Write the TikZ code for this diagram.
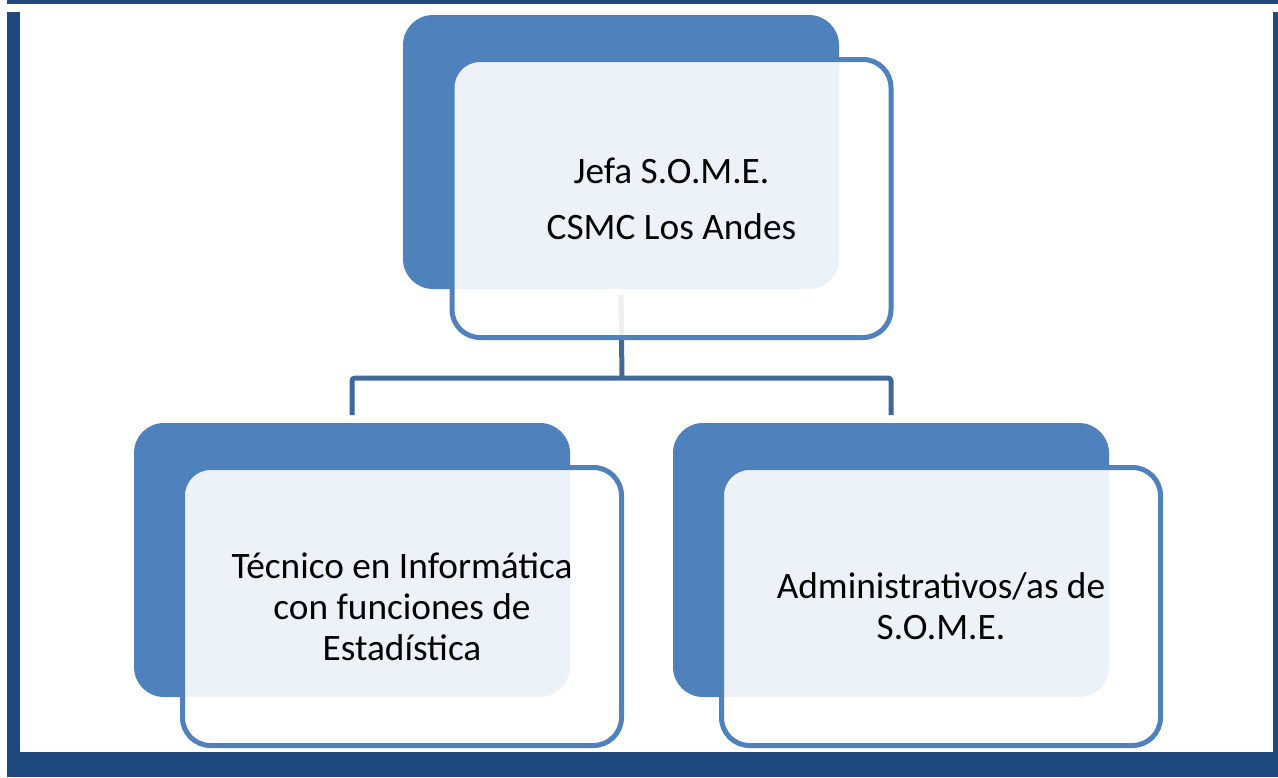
\documentclass[tikz,border=0pt]{standalone}
\usepackage{fontspec}
\setmainfont{Carlito}
\definecolor{accent}{HTML}{4F81BD}
\definecolor{frame}{HTML}{1F497D}
\definecolor{connc}{HTML}{41689A}
\tikzset{
  backbox/.style={fill=accent, draw=none, rounded corners=30pt, inner sep=0pt, outer sep=0pt,
    minimum width=436pt, minimum height=274pt},
  frontbox/.style={draw=accent, line width=5pt, fill=white, fill opacity=0.9, text opacity=1,
    rounded corners=28pt, inner sep=0pt, outer sep=0pt,
    minimum width=439pt, minimum height=278pt},
  label/.style={align=center, font=\fontsize{37.3}{40.8}\selectfont, text=black, inner sep=0pt},
  conn/.style={draw=connc, line width=5pt, rounded corners=3pt},
  framebar/.style={fill=frame, draw=none}
}
\begin{document}
\begin{tikzpicture}[x=1pt, y=-1pt]
\useasboundingbox (0,0) rectangle (1278,777);
\fill[white] (0,0) rectangle (1278,777);
% frame
\fill[framebar] (7,0) rectangle (1278,4);
\fill[framebar] (7,12) rectangle (20,777);
\fill[framebar] (1273,12) rectangle (1278,752);
\fill[framebar] (7,752) rectangle (1278,777);
% back boxes
\node[backbox] (topback) at (621,152) {};
\node[backbox] (lback) at (352,560) {};
\node[backbox] (rback) at (891,560) {};
% connectors
\coordinate (bar) at (622,378);
\draw[conn] ([yshift=-6pt]topback.south) -- (bar);
\draw[conn] ([yshift=8pt]lback.north) -- (lback.north |- bar) -- (rback.north |- bar) -- ([yshift=8pt]rback.north);
% front boxes
\node[frontbox] (topfront) at (671.5,198.5) {};
\node[frontbox] (lfront) at (402,606.5) {};
\node[frontbox] (rfront) at (941,606.5) {};
% texts
\node[label] (toptext) at (topfront.center) {Jefa S.O.M.E.\\[15pt] CSMC Los Andes};
\node[label] (ltext) at (lfront.center) {Técnico en Informática\\con funciones de\\Estadística};
\node[label] (rtext) at (rfront.center) {Administrativos/as de\\S.O.M.E.};
\end{tikzpicture}
\end{document}
